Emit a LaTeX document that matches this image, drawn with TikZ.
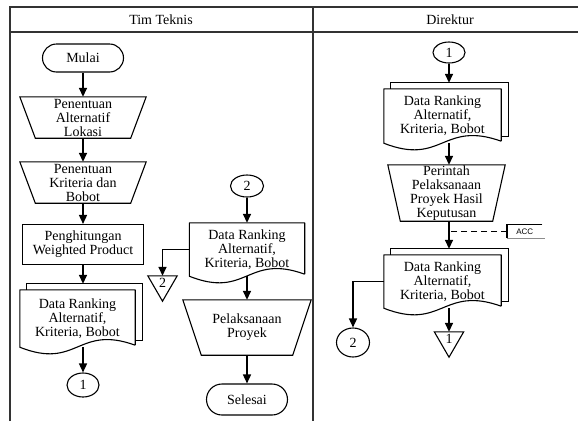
\documentclass[tikz,border=0pt]{standalone}
\usepackage{fontspec}
\setmainfont{Liberation Serif}
\newfontfamily\annfont{Liberation Sans}
\usetikzlibrary{arrows.meta,shapes.geometric,calc}

\tikzset{
  every node/.style={font=\fontsize{14}{14}\selectfont, align=center, inner sep=0pt},
  lane/.style={draw=black!80, line width=1.2pt},
  outline/.style={draw=black, line width=1.1pt},
  terminal/.style={outline, rounded corners=#1},
  connector/.style={outline, ellipse},
  flow/.style={line width=1.5pt, -{Triangle[length=9pt,width=8pt]}},
}

% manual operation: wide top, narrow bottom
\newcommand\manualop[2]{\draw[outline] (#1.north west) -- (#1.north east)
  -- ([xshift=-#2pt]#1.south east) -- ([xshift=#2pt]#1.south west) -- cycle;}
% document sheet with wavy lower edge
\newcommand\docsheet[1]{\draw[outline, line join=round] ([yshift=2pt]#1.south east) -- (#1.north east)
  -- (#1.north west) -- (#1.south west)
  .. controls ([yshift=-23pt]#1.south) and ([yshift=23pt]#1.south) .. ([yshift=2pt]#1.south east);}
% second sheet behind a document
\newcommand\backsheet[1]{\draw[outline] ([xshift=7pt]#1.north west) -- ([shift={(7pt,6pt)}]#1.north west)
  -- ([shift={(7pt,6pt)}]#1.north east) -- ([shift={(7pt,7pt)}]#1.south east) -- ([yshift=7pt]#1.south east);}
% off-page reference
\newcommand\offpage[1]{\draw[outline] (#1.north west) -- (#1.north east) -- (#1.south) -- cycle;}

\begin{document}
\begin{tikzpicture}[x=1pt,y=-1pt]
\useasboundingbox (0,0) rectangle (578,421);

% swimlanes
\draw[lane] (10,421) -- (10,7) -- (578,7);
\draw[lane] (10,32) -- (578,32);
\draw[lane, line width=2pt] (313,7) -- (313,421);
\node (hL) at (161,20) {Tim Teknis};
\node (hR) at (450,20) {Direktur};

% --- Tim Teknis, first column
\node[terminal=14pt, minimum width=81pt, minimum height=28pt] (mulai) at (83,58) {Mulai};
\node[minimum width=126pt, minimum height=41pt] (t1) at (83,117.5) {Penentuan\\Alternatif\\Lokasi};
\manualop{t1}{15.5}
\node[minimum width=126pt, minimum height=41pt] (t2) at (83,182.5) {Penentuan\\Kriteria dan\\Bobot};
\manualop{t2}{15.5}
\node[outline, minimum width=121pt, minimum height=40pt] (r1) at (83,244.5) {Penghitungan\\Weighted Product};
\node[minimum width=115pt, minimum height=57pt] (d1) at (77.5,318.5) {Data Ranking\\Alternatif,\\Kriteria, Bobot};
\backsheet{d1}
\docsheet{d1}
\coordinate (d1back) at ([yshift=6pt]d1.north);
\node[connector, minimum width=32pt, minimum height=24pt] (c1) at (83,385) {1};

\draw[flow] (mulai) -- (t1);
\draw[flow] (t1) -- (t2);
\draw[flow] (t2) -- (r1);
\draw[flow] (r1.south) -- (r1.south |- d1back);
\draw[flow] (r1.south |- d1.south) -- (c1);

% --- Tim Teknis, second column
\node[connector, minimum width=33pt, minimum height=22pt] (c2) at (247,186) {2};
\node[minimum width=115pt, minimum height=53pt] (d2) at (247,249.5) {Data Ranking\\Alternatif,\\Kriteria, Bobot};
\docsheet{d2}
\node[minimum width=29pt, minimum height=25pt, label={[yshift=6pt]center:2}] (o2) at (162.5,288.5) {};
\offpage{o2}
\node[minimum width=128pt, minimum height=55pt] (p1) at (247,327.5) {Pelaksanaan\\Proyek};
\manualop{p1}{18.5}
\node[terminal=15.5pt, minimum width=81pt, minimum height=31pt] (sel) at (247,399.5) {Selesai};

\draw[flow] (c2) -- (d2);
\draw[flow] (d2.west) -| (o2.north);
\draw[flow] (d2.south) -- (p1.north);
\draw[flow] (p1) -- (sel);

% --- Direktur
\node[connector, minimum width=32pt, minimum height=21pt] (c3) at (449,52.5) {1};
\node[minimum width=117pt, minimum height=54pt] (d3) at (442.5,116) {Data Ranking\\Alternatif,\\Kriteria, Bobot};
\backsheet{d3}
\docsheet{d3}
\coordinate (d3back) at ([yshift=6pt]d3.north);
\node[minimum width=117pt, minimum height=56pt] (t3) at (446.5,193) {Perintah\\Pelaksanaan\\Proyek Hasil\\Keputusan};
\manualop{t3}{12.5}
\node[minimum width=117pt, minimum height=53pt] (d4) at (442.5,281.5) {Data Ranking\\Alternatif,\\Kriteria, Bobot};
\backsheet{d4}
\docsheet{d4}
\coordinate (d4back) at ([yshift=6pt]d4.north);
\node[connector, minimum width=33pt, minimum height=29pt] (c4) at (353,342.5) {2};
\node[minimum width=29pt, minimum height=25pt, label={[yshift=6pt]center:1}] (o1) at (449,344.5) {};
\offpage{o1}

% annotation
\node[font=\annfont\fontsize{8}{8}\selectfont, minimum width=35pt, minimum height=13pt, anchor=west] (acc) at (507,231.5) {ACC};
\draw[outline] (acc.north east) -- (acc.north west) -- (acc.south west);
\draw[outline, draw=black!45] (acc.south west) -- ([xshift=3pt]acc.south east);
\draw[line width=1pt, dash pattern=on 6pt off 4pt] (acc.west) -- (acc.west -| c3);

\draw[flow] (c3) -- (c3 |- d3back);
\draw[flow] (c3 |- d3.south) -- (c3 |- t3.north);
\draw[flow] (c3 |- t3.south) -- (c3 |- d4back);
\draw[flow] (d4.west) -| (c4.north);
\draw[flow] (c3 |- d4.south) -- (o1.north);
\end{tikzpicture}
\end{document}
